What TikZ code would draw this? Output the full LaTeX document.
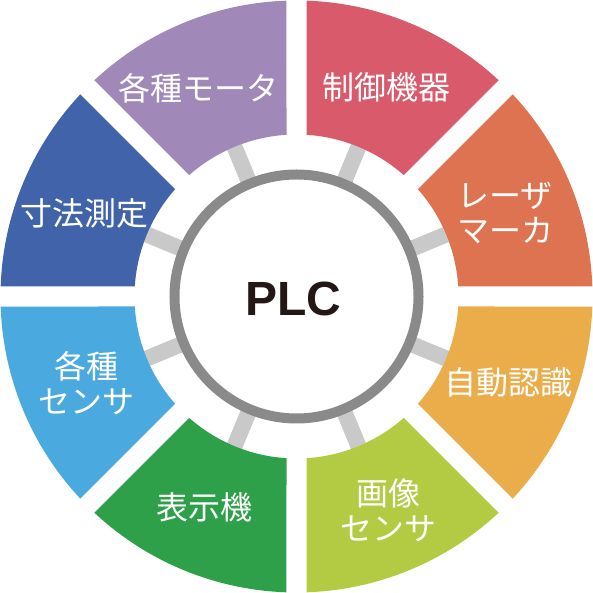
\documentclass[tikz,border=0pt]{standalone}
\usepackage{fontspec}
\setmainfont{Liberation Sans}
\newfontfamily\cjkfont{Noto Sans CJK JP}
\usetikzlibrary{positioning}
\definecolor{MotorPurple}{HTML}{A088B8}
\definecolor{CtrlRed}{HTML}{D95B6B}
\definecolor{LaserOrange}{HTML}{DE7351}
\definecolor{AutoYellow}{HTML}{EBAC4A}
\definecolor{ImageLime}{HTML}{B3CB42}
\definecolor{DisplayGreen}{HTML}{2FA04A}
\definecolor{SensorBlue}{HTML}{4AAAE0}
\definecolor{MeasureBlue}{HTML}{4163A9}
\definecolor{RingGray}{HTML}{8A8A8A}
\definecolor{SpokeGray}{HTML}{C9C9C9}
\definecolor{PLCBlack}{HTML}{231815}
\tikzset{
  seglabel/.style={text=white, font=\cjkfont\fontsize{32}{35}\selectfont, align=center, inner sep=0pt},
  spoke/.style={draw=SpokeGray, line width=16pt},
  hubring/.style={circle, draw=RingGray, line width=10pt, fill=white, minimum size=244pt, inner sep=0pt},
  hublabel/.style={font=\bfseries\fontsize{48}{50}\selectfont, text=PLCBlack, inner sep=0pt}
}

\begin{document}
\begin{tikzpicture}[x=1pt, y=1pt]
  \useasboundingbox (-296.5,-296.5) rectangle (296.5,296.5);

  % spokes between hub and segments
  \foreach \a in {22.5,67.5,...,337.5}
    \draw[spoke] (\a:100) -- (\a:170);

  % ring segments, 20pt gaps
  \foreach \a/\col in {90/MotorPurple, 45/CtrlRed, 0/LaserOrange, -45/AutoYellow, -90/ImageLime, -135/DisplayGreen, 180/SensorBlue, 135/MeasureBlue}
    \fill[\col] ({\a+3.54}:162) -- ({\a+1.94}:296)
      arc[start angle=\a+1.94, end angle=\a+43.06, radius=296pt]
      -- ({\a+41.46}:162)
      arc[start angle=\a+41.46, end angle=\a+3.54, radius=162pt] -- cycle;

  \node[hubring] (hub) at (0,0) {};
  \node[hublabel] (plc) at (-3,-2.5) {PLC};

  \node[seglabel] (motor) at (-97.5,208) {各種モータ};
  \node[seglabel] (ctrl) at (90,209) {制御機器};
  \node[seglabel] (laser) at (208.5,83) {レーザ\\マーカ};
  \node[seglabel] (autoid) at (212,-85.5) {自動認識};
  \node[seglabel] (imgsens) at (91.5,-213.5) {画像\\センサ};
  \node[seglabel] (display) at (-92,-210.5) {表示機};
  \node[seglabel] (sensors) at (-210,-86.5) {各種\\センサ};
  \node[seglabel] (measure) at (-212,83) {寸法測定};
\end{tikzpicture}
\end{document}
